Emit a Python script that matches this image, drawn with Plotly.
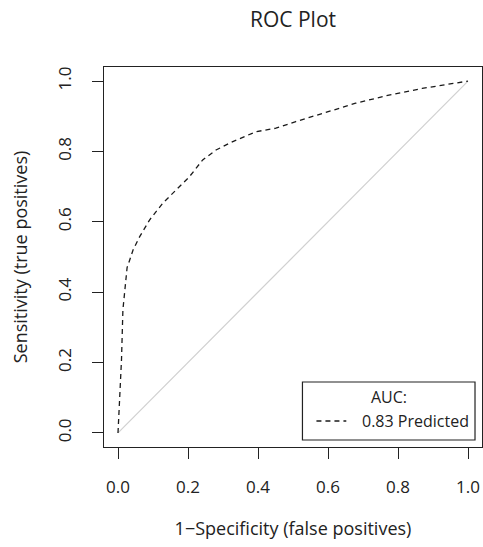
import plotly.graph_objects as go

# ROC curve values
fpr = [0.0, 0.005, 0.01, 0.014, 0.021, 0.026, 0.033, 0.043, 0.062, 0.09, 0.128, 0.166,
       0.204, 0.242, 0.28, 0.328, 0.394, 0.451, 0.508, 0.584, 0.679, 0.774, 0.869, 1.0]
tpr = [0.0, 0.1, 0.208, 0.35, 0.42, 0.47, 0.49, 0.52, 0.558, 0.605, 0.653, 0.69,
       0.728, 0.776, 0.804, 0.828, 0.856, 0.866, 0.885, 0.908, 0.937, 0.96, 0.979, 1.0]
ref_x = [0.0, 1.0]
ref_y = [0.0, 1.0]
tick_vals = [0.0, 0.2, 0.4, 0.6, 0.8, 1.0]
tick_text = ["0.0", "0.2", "0.4", "0.6", "0.8", "1.0"]
auc_label = "0.83 Predicted"
legend_title = "AUC:"

FONT = "Open Sans"
INK = "#222222"

fig = go.Figure()
fig.add_trace(go.Scatter(x=ref_x, y=ref_y, mode="lines",
                         line=dict(color="#d0d0d0", width=1.2),
                         showlegend=False, hoverinfo="skip"))
fig.add_trace(go.Scatter(x=fpr, y=tpr, mode="lines", name=auc_label,
                         line=dict(color="#1a1a1a", width=1.3, dash="5px,4px"),
                         showlegend=False))

axis_common = dict(
    range=[-0.04, 1.04], tickvals=tick_vals, ticktext=tick_text,
    showgrid=False, zeroline=False, showline=True, mirror=True, automargin=False,
    linecolor=INK, linewidth=1.2, ticks="outside", ticklen=11, tickwidth=1.2,
    tickcolor=INK, tickfont=dict(family=FONT, size=17, color=INK),
)

fig.update_layout(
    width=483, height=547,
    margin=dict(l=104, r=1, t=67, b=100),
    paper_bgcolor="white", plot_bgcolor="white",
    font=dict(family=FONT, color=INK),
    title=dict(text="ROC Plot", x=0.5, xref="paper", xanchor="center",
               y=1 - 20 / 547, yref="container", yanchor="middle",
               font=dict(family=FONT, size=21, color=INK)),
    xaxis=dict(**axis_common, ticklabelstandoff=13,
               title=dict(text="1\u2212Specificity (false positives)", standoff=25,
                          font=dict(family=FONT, size=18, color=INK))),
    yaxis=dict(**axis_common, tickangle=-90, ticklabelstandoff=14,
               title=dict(text="Sensitivity (true positives)", standoff=20,
                          font=dict(family=FONT, size=18, color=INK))),
)

# legend box (bottom right inside the plot region)
fig.add_shape(type="rect", xref="paper", yref="paper",
              x0=0.525, x1=0.9815, y0=0.0184, y1=0.171,
              line=dict(color=INK, width=1.2), fillcolor="white", layer="above")
fig.add_shape(type="line", xref="paper", yref="paper",
              x0=0.562, x1=0.641, y0=0.0684, y1=0.0684,
              line=dict(color="#1a1a1a", width=1.3, dash="5px,4px"), layer="above")
fig.add_annotation(text=legend_title, xref="paper", yref="paper", x=0.7546, y=0.1316,
                   xanchor="center", yanchor="middle", showarrow=False,
                   font=dict(family=FONT, size=16, color=INK))
fig.add_annotation(text=auc_label, xref="paper", yref="paper", x=0.678, y=0.0684,
                   xanchor="left", yanchor="middle", showarrow=False,
                   font=dict(family=FONT, size=16, color=INK))

fig.write_html("out.html", config={"displayModeBar": False},
               post_script="document.body.style.margin='0';document.body.style.padding='0';")
